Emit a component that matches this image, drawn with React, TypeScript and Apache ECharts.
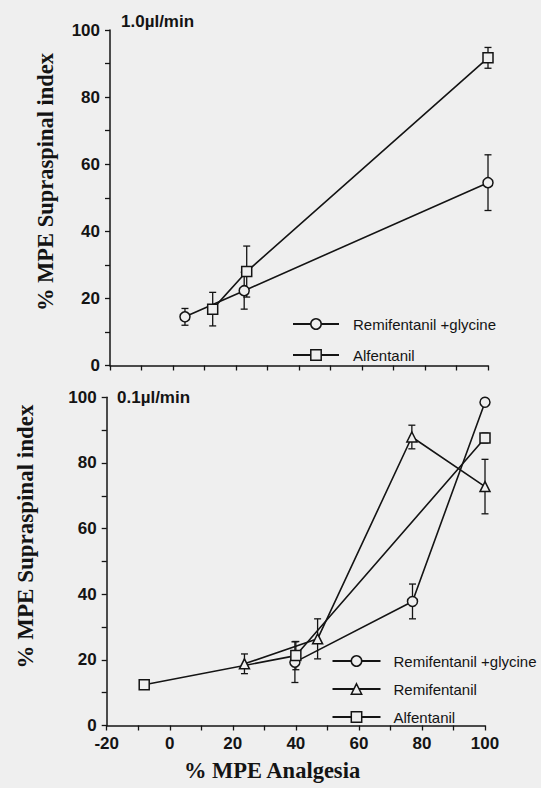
import React, { useEffect, useRef } from 'react';
import * as echarts from 'echarts';

const BG = '#efefef';
const INK = '#141414';
const SANS = '"Liberation Sans", Arial, Helvetica, sans-serif';
const SERIF = '"Liberation Serif", "Times New Roman", serif';

const GLY = 'Remifentanil +glycine';
const REM = 'Remifentanil';
const ALF = 'Alfentanil';

// Panel titles and axis names
const topTitle = '1.0µl/min';
const botTitle = '0.1µl/min';
const yName = '% MPE Supraspinal index';
const xName = '% MPE Analgesia';

// Axis scales / ticks
const X_MIN = -20;
const X_MAX = 100;
const X_STEP = 10;
const Y_MIN = 0;
const Y_MAX = 100;
const Y_STEP = 10;
const LABEL_STEP = 20;

// Top panel (1.0 µl/min)
const topGlyX = [3.8, 22.6, 100];
const topGlyY = [14.5, 22.3, 54.5];
const topGlyErr = [2.5, 5.5, 8.3];
const topAlfX = [12.6, 23.4, 100];
const topAlfY = [16.8, 28.0, 91.7];
const topAlfErr = [5.0, 7.6, 3.1];

// Bottom panel (0.1 µl/min)
const botGlyX = [39.7, 77.0, 100];
const botGlyY = [19.3, 37.8, 98.5];
const botGlyErr = [6.2, 5.3, 1.0];
const botRemX = [23.7, 46.9, 76.8, 100];
const botRemY = [18.8, 26.4, 87.9, 72.8];
const botRemErr = [3.0, 6.1, 3.6, 8.3];
const botAlfX = [-8.1, 40.0, 100];
const botAlfY = [12.4, 21.3, 87.6];
const botAlfErr = [0, 4.3, 1.5];

const pts = (xs: number[], ys: number[]) => xs.map((x, i) => [x, ys[i]]);
const errPts = (xs: number[], ys: number[], es: number[]) => xs.map((x, i) => [x, ys[i], es[i]]);

const symbolSizes: Record<string, number> = { circle: 10, rect: 10, triangle: 10 };

function lineSeries(name: string, symbol: string, xs: number[], ys: number[], gi: number) {
  return {
    type: 'line',
    name,
    xAxisIndex: gi,
    yAxisIndex: gi,
    data: pts(xs, ys),
    symbol,
    symbolSize: symbolSizes[symbol],
    showAllSymbol: true,
    lineStyle: { color: INK, width: 1.6 },
    itemStyle: { color: BG, borderColor: INK, borderWidth: 1.5 },
    emphasis: { disabled: true },
    z: 3,
  };
}

function errSeries(xs: number[], ys: number[], es: number[], gi: number) {
  return {
    type: 'custom',
    xAxisIndex: gi,
    yAxisIndex: gi,
    data: errPts(xs, ys, es),
    encode: { x: 0, y: 1 },
    silent: true,
    z: 2,
    renderItem: (_params: any, api: any) => {
      const x = api.value(0);
      const y = api.value(1);
      const e = api.value(2);
      if (!e) return null;
      const t = api.coord([x, y + e]);
      const b = api.coord([x, y - e]);
      const w = 3.5;
      const st = { stroke: INK, lineWidth: 1.3, fill: 'none' };
      return {
        type: 'group',
        children: [
          { type: 'line', shape: { x1: t[0], y1: t[1], x2: b[0], y2: b[1] }, style: st },
          { type: 'line', shape: { x1: t[0] - w, y1: t[1], x2: t[0] + w, y2: t[1] }, style: st },
          { type: 'line', shape: { x1: b[0] - w, y1: b[1], x2: b[0] + w, y2: b[1] }, style: st },
        ],
      };
    },
  };
}

const labelFmt = (v: number) => (v % LABEL_STEP === 0 ? String(v) : '');

const axisLine = { show: true, onZero: false, lineStyle: { color: INK, width: 1.5 } };
const axisTick = { show: true, length: 5, lineStyle: { color: INK, width: 1.3 } };
const axisLabel = {
  color: INK,
  fontSize: 17,
  fontWeight: 'bold',
  fontFamily: SANS,
  margin: 9,
  formatter: labelFmt,
};

function xAxis(gi: number, showLabels: boolean) {
  return {
    type: 'value',
    gridIndex: gi,
    min: X_MIN,
    max: X_MAX,
    interval: X_STEP,
    axisLine,
    axisTick,
    axisLabel: { ...axisLabel, show: showLabels },
    splitLine: { show: false },
  };
}

function yAxis(gi: number) {
  return {
    type: 'value',
    gridIndex: gi,
    min: Y_MIN,
    max: Y_MAX,
    interval: Y_STEP,
    axisLine,
    axisTick,
    axisLabel: { ...axisLabel, margin: 10 },
    splitLine: { show: false },
  };
}

const legendText = (pad: number) => ({
  color: INK,
  fontSize: 15,
  fontFamily: SANS,
  padding: [0, 0, 0, pad],
});

const titleStyle = { color: INK, fontSize: 17, fontWeight: 'bold', fontFamily: SANS };

const option: any = {
  animation: false,
  backgroundColor: BG,
  title: [
    { text: topTitle, left: 121, top: 13, padding: 0, textStyle: titleStyle },
    { text: botTitle, left: 117, top: 389, padding: 0, textStyle: titleStyle },
  ],
  grid: [
    { left: 110, top: 30, width: 378, height: 335.5 },
    { left: 106.7, top: 397.3, width: 378.3, height: 328.2 },
  ],
  xAxis: [xAxis(0, false), xAxis(1, true)],
  yAxis: [yAxis(0), yAxis(1)],
  legend: [
    {
      data: [GLY, ALF],
      orient: 'vertical',
      left: 292,
      top: 316.5,
      padding: 0,
      itemWidth: 46,
      itemHeight: 13,
      itemGap: 16,
      selectedMode: false,
      itemStyle: { borderWidth: 1.5 },
      textStyle: legendText(9),
    },
    {
      data: [GLY, REM, ALF],
      orient: 'vertical',
      left: 331.5,
      top: 653.5,
      padding: 0,
      itemWidth: 48,
      itemHeight: 13,
      itemGap: 13,
      selectedMode: false,
      itemStyle: { borderWidth: 1.5 },
      textStyle: legendText(8),
    },
  ],
  graphic: [
    {
      type: 'text',
      x: 45,
      y: 182,
      rotation: Math.PI / 2,
      style: {
        text: yName,
        fill: INK,
        font: `bold 22.5px ${SERIF}`,
        textAlign: 'center',
        textVerticalAlign: 'middle',
      },
    },
    {
      type: 'text',
      x: 25,
      y: 536.5,
      rotation: Math.PI / 2,
      style: {
        text: yName,
        fill: INK,
        font: `bold 23px ${SERIF}`,
        textAlign: 'center',
        textVerticalAlign: 'middle',
      },
    },
    {
      type: 'text',
      x: 272,
      y: 770,
      style: {
        text: xName,
        fill: INK,
        font: `bold 22.5px ${SERIF}`,
        textAlign: 'center',
        textVerticalAlign: 'middle',
      },
    },
  ],
  series: [
    errSeries(topGlyX, topGlyY, topGlyErr, 0),
    errSeries(topAlfX, topAlfY, topAlfErr, 0),
    lineSeries(GLY, 'circle', topGlyX, topGlyY, 0),
    lineSeries(ALF, 'rect', topAlfX, topAlfY, 0),
    errSeries(botGlyX, botGlyY, botGlyErr, 1),
    errSeries(botRemX, botRemY, botRemErr, 1),
    errSeries(botAlfX, botAlfY, botAlfErr, 1),
    lineSeries(GLY, 'circle', botGlyX, botGlyY, 1),
    lineSeries(REM, 'triangle', botRemX, botRemY, 1),
    lineSeries(ALF, 'rect', botAlfX, botAlfY, 1),
  ],
};

export default function App() {
  const ref = useRef<HTMLDivElement>(null);
  useEffect(() => {
    if (!ref.current) return;
    const chart = echarts.init(ref.current, null, { renderer: 'svg' });
    chart.setOption(option);
    return () => chart.dispose();
  }, []);
  return (
    <div
      ref={ref}
      style={{ position: 'fixed', left: 0, top: 0, width: 541, height: 788, background: BG }}
    />
  );
}
